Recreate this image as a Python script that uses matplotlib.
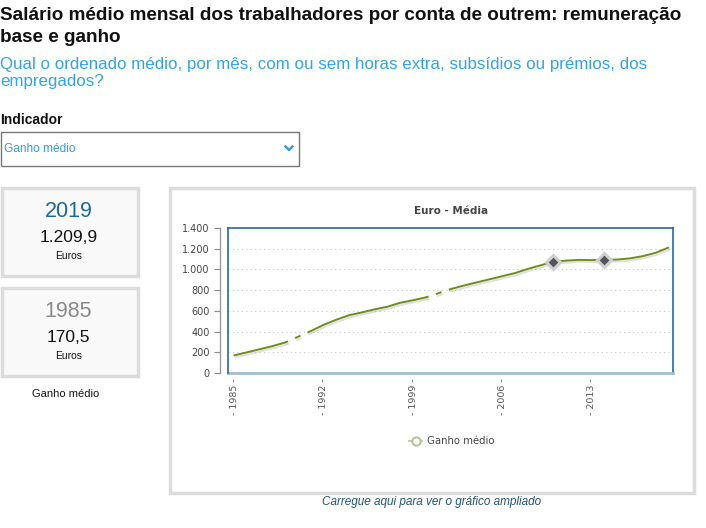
import numpy as np
import matplotlib
matplotlib.use("Agg")
import matplotlib.pyplot as plt
import matplotlib.patheffects as pe
from matplotlib.patches import Rectangle
from matplotlib.lines import Line2D

# ---------------- data ----------------
years = list(range(1985, 2020))
ganho_medio = [170.5, 200, 230, 260, 295, None, 405, 465, 515, 558,
               585, 615, 640, 678, 702, 730, None, 812, 845, 875,
               905, 935, 965, 1005, 1040, 1075, 1085, 1092, 1090, 1093,
               1095, 1107, 1128, 1160, 1209.9]
marker_years = [2010, 2014]
x_ticks = [1985, 1992, 1999, 2006, 2013]
x_tick_labels = [f"- {y} -" for y in x_ticks]
y_ticks = [0, 200, 400, 600, 800, 1000, 1200, 1400]
y_tick_labels = ["0", "200", "400", "600", "800", "1.000", "1.200", "1.400"]
series_name = "Ganho médio"
chart_title = "Euro - Média"
latest_year, latest_value = "2019", "1.209,9"
first_year, first_value = "1985", "170,5"

W, H = 706, 528
fig = plt.figure(figsize=(W / 100, H / 100), dpi=100)
fig.patch.set_facecolor("white")

# background axes in pixel coordinates for page layout
bg = fig.add_axes([0, 0, 1, 1], zorder=0)
bg.set_xlim(0, W)
bg.set_ylim(H, 0)
bg.axis("off")

PAGE = ["Liberation Sans", "DejaVu Sans"]
CH = ["DejaVu Sans"]

bg.text(0, 15, "Salário médio mensal dos trabalhadores por conta de outrem: remuneração",
        fontsize=13.6, fontweight="bold", family=PAGE, va="center", ha="left", color="#111")
bg.text(0, 38, "base e ganho", fontsize=13.6, fontweight="bold", family=PAGE,
        va="center", ha="left", color="#111")
blue_sub = "#33a3e6"
bg.text(0, 64, "Qual o ordenado médio, por mês, com ou sem horas extra, subsídios ou prémios, dos",
        fontsize=12.2, family=PAGE, va="center", ha="left", color=blue_sub)
bg.text(0, 81.5, "empregados?", fontsize=12.2, family=PAGE, va="center", ha="left", color=blue_sub)

bg.text(0, 119.5, "Indicador", fontsize=10, fontweight="bold", family=PAGE,
        va="center", ha="left", color="#111")
bg.add_patch(Rectangle((0.5, 132), 298, 34, facecolor="white", edgecolor="#777777", lw=1))
bg.text(4, 148.5, series_name, fontsize=8.6, family=PAGE, va="center", ha="left", color="#3a9ad9")
bg.add_line(Line2D([285.5, 289, 292.5], [146.5, 150, 146.5], color="#3a9ad9", lw=1.8))

# left info boxes
for (y0, yr, val, ycol) in [(187.5, latest_year, latest_value, "#1d6996"),
                            (287.5, first_year, first_value, "#8a8a8a")]:
    bg.add_patch(Rectangle((1.5, y0), 136, 88, facecolor="#f9f9f9", edgecolor="#dcdcdc", lw=2.5))
    bg.text(68.5, y0 + 24, yr, fontsize=15.5, family=PAGE, ha="center", va="center", color=ycol)
    bg.text(68.5, y0 + 50.5, val, fontsize=12.5, family=PAGE, ha="center", va="center", color="#111")
    bg.text(68.5, y0 + 68.5, "Euros", fontsize=7.5, family=PAGE, ha="center", va="center", color="#111")
bg.text(66, 394, series_name, fontsize=8, family=PAGE, ha="center", va="center", color="#111")

# chart frame
bg.add_patch(Rectangle((170, 188), 524, 305, facecolor="white", edgecolor="#dcdcdc", lw=2.5))
bg.text(451, 211, chart_title, fontsize=7.5, fontweight="bold", family=CH,
        ha="center", va="center", color="#444444")
bg.text(432, 501.5, "Carregue aqui para ver o gráfico ampliado", fontsize=8.5, style="italic",
        family=PAGE, ha="center", va="center", color="#24527a")

# ---------------- chart axes ----------------
L, R, T, B = 228, 673, 228, 373
ax = fig.add_axes([L / W, 1 - B / H, (R - L) / W, (B - T) / H], zorder=2)
ax.set_facecolor("white")

# spine setup first (set_position resets ticks)
for s in ["top", "right"]:
    ax.spines[s].set_color("#2a6799")
    ax.spines[s].set_linewidth(1.2)
ax.spines["bottom"].set_color("#9fbdd0")
ax.spines["bottom"].set_linewidth(2)
ax.spines["left"].set_position(("outward", 6))
ax.spines["left"].set_color("#999999")
ax.spines["left"].set_linewidth(1)

px_per_year = (591.7 - 234.3) / 28.0
x0 = 1985 - (234.3 - L) / px_per_year
x1 = x0 + (R - L) / px_per_year
ax.set_xlim(x0, x1)
ax.set_ylim(0, 1400)

vals = np.array([np.nan if v is None else v for v in ganho_medio], dtype=float)
yrs = np.array(years)
line_col = "#6e8c1c"
shadow = [pe.SimpleLineShadow(offset=(0.8, -1.5), shadow_color="#999999", alpha=0.3),
          pe.Normal()]
ax.plot(yrs, vals, color=line_col, lw=1.4, solid_capstyle="round",
        path_effects=shadow, zorder=3)
# dashed connectors across missing years
for i, v in enumerate(vals):
    if np.isnan(v) and 0 < i < len(vals) - 1:
        ax.plot([yrs[i - 1], yrs[i + 1]], [vals[i - 1], vals[i + 1]], color=line_col,
                lw=1.4, linestyle=(1.5, (3, 4)), path_effects=shadow, zorder=3)

mk_vals = [vals[years.index(y)] for y in marker_years]
ax.plot(marker_years, mk_vals, linestyle="none", marker="D", ms=7.5,
        mfc="#555555", mec="#cfcfcf", mew=2.2, zorder=4)

ax.set_yticks(y_ticks)
ax.set_yticklabels(y_tick_labels, fontsize=7, color="#444444", family=CH)
ax.set_xticks(x_ticks)
ax.set_xticklabels(x_tick_labels, rotation=90, fontsize=6.8, color="#555555",
                   family=CH, va="top", ha="center")
ax.tick_params(axis="x", length=0, pad=3.5)
ax.tick_params(axis="y", length=4, width=0.8, color="#888888", pad=3)

for yv in y_ticks[1:-1]:
    ax.axhline(yv, color="#c8c8c8", lw=0.8, linestyle=(0, (1, 3)), zorder=1)

ax.plot([0, 0], [0, 1], transform=ax.transAxes, color="#2a6799", lw=1.2, clip_on=False, zorder=5)

handle = Line2D([], [], color="#b3c28a", lw=1.2, marker="o", ms=6, mfc="white",
                mec="#b3c28a", mew=1.4)
leg = fig.legend([handle], [series_name], loc="center",
                 bbox_to_anchor=(452 / W, 1 - 441.5 / H), frameon=False,
                 handlelength=1.3, handletextpad=0.5, prop={"family": CH, "size": 7.3})
for t in leg.get_texts():
    t.set_color("#444444")

fig.savefig("out.png", dpi=100, facecolor="white")
